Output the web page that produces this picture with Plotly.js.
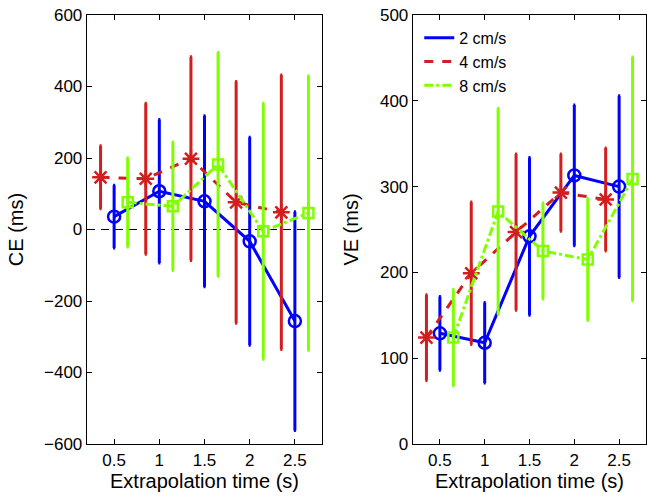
<!DOCTYPE html>
<html>
<head>
<meta charset="utf-8">
<script src="https://cdn.plot.ly/plotly-3.0.1.min.js"></script>
<style>
  html, body { margin: 0; padding: 0; background: #fff; }
  #chart { width: 647px; height: 496px; }
</style>
</head>
<body>
<div id="chart"></div>
<script>
// Extrapolation times (s)
const times = [0.5, 1, 1.5, 2, 2.5];
const seriesNames = ['2 cm/s', '4 cm/s', '8 cm/s'];

// CE (ms): means and standard deviations
const ce2 = [36, 107, 79, -33, -256];
const ce2Sd = [88, 201, 239, 291, 306];
const ce4 = [146, 142, 198, 76, 48];
const ce4Sd = [88, 211, 285, 338, 384];
const ce8 = [76, 65, 182, -5, 46];
const ce8Sd = [125, 180, 313, 358, 384];

// VE (ms): means and standard deviations
const ve2 = [129, 118, 242, 313, 300];
const ve2Sd = [43, 47, 92, 82, 106];
const ve4 = [124, 199, 247, 293, 285];
const ve4Sd = [50, 83, 91, 45, 60];
const ve8 = [124, 271, 225, 215, 309];
const ve8Sd = [56, 120, 56, 71, 142];

const FONT = 'Liberation Sans, Arial, Helvetica, sans-serif';
const BLUE = '#0000ff', RED = '#d21e1e', GREEN = '#80ff00';

const styles = [
  { color: BLUE, dash: 'solid', symbol: 'circle-open', size: 12, shift: 0 },
  { color: RED, dash: 'dash', symbol: 'asterisk-open', size: 14, shift: -0.15 },
  { color: GREEN, dash: 'dashdot', symbol: 'square-open', size: 10, shift: 0.15 }
];

function mk(vals, sd, st, xa, ya) {
  return {
    type: 'scatter', mode: 'lines+markers',
    x: times.map(t => t + st.shift), y: vals,
    xaxis: xa, yaxis: ya, showlegend: false,
    line: { color: st.color, width: 3, dash: st.dash },
    marker: { symbol: st.symbol, size: st.size, color: st.color, line: { color: st.color, width: 2.5 } },
    error_y: { type: 'data', array: sd, visible: true, color: st.color, thickness: 3, width: 1 }
  };
}

const ceSets = [[ce2, ce2Sd], [ce4, ce4Sd], [ce8, ce8Sd]];
const veSets = [[ve2, ve2Sd], [ve4, ve4Sd], [ve8, ve8Sd]];

const data = [];
ceSets.forEach((s, i) => data.push(mk(s[0], s[1], styles[i], 'x', 'y')));
veSets.forEach((s, i) => data.push(mk(s[0], s[1], styles[i], 'x2', 'y2')));
// legend entries (lines only)
seriesNames.forEach((n, i) => data.push({
  type: 'scatter', mode: 'lines', x: [null], y: [null], name: n,
  xaxis: 'x2', yaxis: 'y2', showlegend: true,
  line: { color: styles[i].color, width: 3, dash: styles[i].dash }
}));

const axBase = {
  showline: true, linecolor: '#000', linewidth: 1.3, mirror: 'allticks',
  ticks: 'inside', ticklen: 5, tickwidth: 1, tickcolor: '#000',
  showgrid: false, zeroline: false,
  tickfont: { family: FONT, size: 17, color: '#000' }
};

const W = 647, H = 496;
const yDom = [1 - 444 / H, 1 - 15 / H];

const layout = {
  width: W, height: H,
  margin: { l: 0, r: 0, t: 0, b: 0 },
  paper_bgcolor: '#fff', plot_bgcolor: '#fff',
  font: { family: FONT, color: '#000' },
  xaxis: Object.assign({}, axBase, {
    domain: [87 / W, 322 / W], range: [0.2, 2.8], tickvals: times,
    title: { text: 'Extrapolation time (s)', font: { family: FONT, size: 20 }, standoff: 3 }
  }),
  yaxis: Object.assign({}, axBase, {
    domain: yDom, range: [-600, 600], dtick: 200,
    title: { text: 'CE (ms)', font: { family: FONT, size: 20 }, standoff: 15 }
  }),
  xaxis2: Object.assign({}, axBase, {
    domain: [413 / W, 646 / W], range: [0.2, 2.8], tickvals: times, anchor: 'y2',
    title: { text: 'Extrapolation time (s)', font: { family: FONT, size: 20 }, standoff: 3 }
  }),
  yaxis2: Object.assign({}, axBase, {
    domain: yDom, range: [0, 500], dtick: 100, anchor: 'x2',
    title: { text: 'VE (ms)', font: { family: FONT, size: 20 }, standoff: 16 }
  }),
  shapes: [{
    type: 'line', xref: 'x domain', yref: 'y', x0: 0, x1: 1, y0: 0, y1: 0,
    line: { color: '#000', width: 1, dash: '8px,6px' }, layer: 'below'
  }],
  legend: {
    x: 0.648, y: 0.958, xanchor: 'left', yanchor: 'top',
    bgcolor: 'rgba(0,0,0,0)', borderwidth: 0,
    font: { family: FONT, size: 16, color: '#000' }
  },
  showlegend: true
};

Plotly.newPlot('chart', data, layout, { displayModeBar: false, staticPlot: true });
</script>
</body>
</html>
